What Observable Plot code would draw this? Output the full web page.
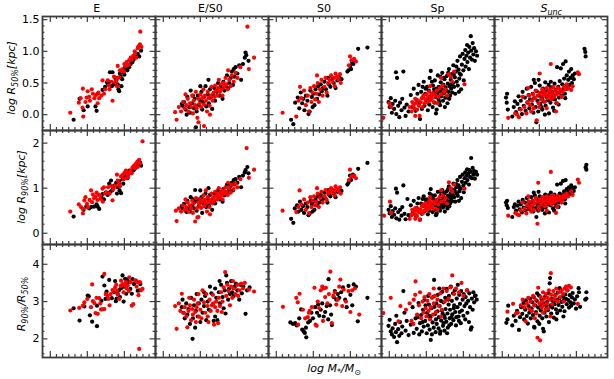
<!DOCTYPE html>
<html><head><meta charset="utf-8">
<script src="https://cdn.jsdelivr.net/npm/d3@7"></script>
<script src="https://cdn.jsdelivr.net/npm/@observablehq/plot@0.6"></script>
<style>
body{margin:0;background:#fff;}
#chart{position:relative;width:614px;height:379px;font-family:"DejaVu Sans",sans-serif;overflow:hidden;}
#chart svg{position:absolute;left:0;overflow:visible;}
</style></head><body><div id="chart"></div>
<script>
const categories = ["E","E/S0","S0","Sp","S_unc"];
const xDomain = [8.79, 11.84];
const xMajorTicks = [9,10,11];
const xMinorTicks = [9.1667,9.3333,9.5,9.6667,9.8333,10.1667,10.3333,10.5,10.6667,10.8333,11.1667,11.3333,11.5,11.6667];
const r50MajorTicks = [0,0.5,1,1.5];
const r50MinorTicks = [-0.2,-0.1,0.1,0.2,0.3,0.4,0.6,0.7,0.8,0.9,1.1,1.2,1.3,1.4];
const r90MajorTicks = [0,1,2];
const r90MinorTicks = [-0.2,0.2,0.4,0.6,0.8,1.2,1.4,1.6,1.8,2.2];
const ratioMajorTicks = [2,3,4];
const ratioMinorTicks = [1.6,1.8,2.2,2.4,2.6,2.8,3.2,3.4,3.6,3.8,4.2,4.4];

// ---- E ----
const eR50Black = [[9.63,-0.08],[9.79,0.25],[9.90,0.07],[10.01,0.13],[10.22,0.13],[10.25,0.06],[10.28,0.33],[10.41,0.39],[10.48,0.44],[10.53,0.51],[10.61,0.67],[10.68,0.67],[10.60,0.52],[10.66,0.45],[10.72,0.48],[10.82,0.48],[10.84,0.40],[10.86,0.37],[10.78,0.55],[10.90,0.60],[10.94,0.56],[10.97,0.67],[11.00,0.63],[11.04,0.72],[11.08,0.70],[11.13,0.75],[11.17,0.80],[11.22,0.83],[11.25,0.87],[11.27,0.91],[11.31,0.93],[11.36,0.96],[11.45,1.01],[11.40,0.92],[10.75,0.58],[10.88,0.65],[11.02,0.75],[10.92,0.45],[10.56,0.48],[11.19,0.84]];
const eR50Red = [[9.54,0.03],[9.89,-0.03],[9.87,0.11],[9.77,0.19],[9.82,0.26],[9.88,0.41],[10.01,0.37],[9.98,0.27],[10.07,0.22],[10.15,0.33],[10.23,0.31],[10.30,0.35],[10.32,0.26],[10.19,0.26],[10.12,0.40],[10.41,0.54],[10.38,0.30],[10.45,0.33],[10.55,0.54],[10.58,0.46],[10.68,0.22],[10.75,0.51],[10.78,0.54],[10.82,0.58],[10.86,0.59],[10.80,0.45],[10.82,0.77],[10.92,0.69],[10.99,0.68],[11.06,0.83],[11.08,0.78],[11.13,0.86],[11.17,0.90],[11.20,0.87],[11.24,0.93],[11.29,0.96],[11.32,0.90],[11.38,1.08],[11.42,1.11],[11.43,1.31],[11.36,1.05],[11.28,1.00],[11.04,0.77],[10.95,0.72],[10.72,0.60],[10.65,0.52],[10.48,0.40],[10.05,0.28],[9.95,0.20],[10.28,0.18],[11.12,0.79],[11.00,0.80],[10.88,0.70],[11.46,1.07],[10.60,0.40]];
const eR90Black = [[9.63,0.37],[9.90,0.52],[9.97,0.59],[10.05,0.55],[10.10,0.58],[10.18,0.59],[10.28,0.59],[10.32,0.54],[10.25,0.64],[10.41,0.87],[10.45,0.75],[10.50,0.90],[10.55,0.85],[10.59,1.10],[10.64,1.17],[10.67,0.95],[10.74,1.06],[10.78,1.12],[10.82,1.02],[10.87,0.95],[10.91,0.89],[10.86,1.15],[10.95,1.20],[11.00,1.24],[11.04,1.26],[11.08,1.22],[11.13,1.39],[11.18,1.35],[11.22,1.42],[11.29,1.48],[11.35,1.52],[11.43,1.56],[11.45,1.50],[10.70,1.00],[10.62,0.92],[10.97,1.10],[11.10,1.30],[10.38,0.80],[10.80,0.88],[11.25,1.40]];
const eR90Red = [[9.54,0.48],[9.77,0.64],[9.88,0.54],[9.88,0.44],[9.92,0.73],[9.99,0.65],[10.06,0.74],[10.10,0.95],[10.13,0.69],[10.18,0.78],[10.22,0.81],[10.27,0.74],[10.30,0.85],[10.35,0.84],[10.41,0.99],[10.45,1.02],[10.52,0.91],[10.56,1.02],[10.68,0.73],[10.60,0.88],[10.80,1.30],[10.82,1.17],[10.86,1.10],[10.91,1.26],[10.95,1.29],[11.00,1.34],[11.04,1.39],[11.08,1.31],[11.13,1.35],[11.17,1.39],[11.22,1.46],[11.26,1.50],[11.31,1.54],[11.35,1.59],[11.40,1.63],[11.49,2.04],[11.42,1.55],[11.10,1.25],[10.98,1.20],[10.75,1.05],[10.48,0.88],[10.36,0.76],[10.15,0.86],[10.02,0.58],[9.95,0.80],[10.65,1.05],[10.88,1.04],[11.20,1.33],[11.30,1.44],[10.25,0.90],[10.70,0.97],[11.05,1.22],[10.42,0.70],[9.83,0.58],[11.36,1.47]];
const eRatioBlack = [[9.63,2.82],[9.79,2.49],[9.92,2.87],[10.01,3.16],[10.04,3.14],[10.07,2.63],[10.13,2.46],[10.26,2.34],[10.26,2.89],[10.41,3.67],[10.46,3.43],[10.49,3.07],[10.52,3.27],[10.59,3.58],[10.66,3.09],[10.72,3.25],[10.77,3.01],[10.79,3.08],[10.82,3.21],[10.86,3.31],[10.91,3.36],[10.95,3.70],[10.98,3.40],[11.02,3.61],[11.05,3.21],[11.08,3.58],[11.11,3.52],[11.16,3.34],[11.20,3.21],[11.26,3.47],[11.31,3.56],[11.36,3.29],[11.43,3.47],[11.40,3.30],[10.98,3.00],[10.50,3.20],[10.38,3.02],[10.75,3.55],[11.22,3.60],[10.88,3.12]];
const eRatioRed = [[9.54,2.76],[9.78,2.83],[9.88,2.89],[9.92,2.98],[10.00,3.07],[10.13,3.46],[10.15,3.01],[10.19,2.96],[10.22,2.69],[10.28,2.67],[10.32,3.09],[10.37,2.79],[10.41,2.79],[10.46,2.80],[10.50,3.20],[10.46,3.74],[10.57,3.07],[10.63,3.20],[10.68,3.31],[10.75,3.38],[10.80,3.29],[10.82,3.19],[10.86,3.07],[10.91,3.56],[10.95,3.47],[11.00,3.44],[11.04,3.52],[11.09,3.43],[11.13,3.65],[11.17,3.52],[11.20,2.89],[11.24,2.93],[11.29,3.56],[11.36,3.52],[11.38,3.17],[11.42,3.52],[11.45,3.30],[11.49,3.34],[11.40,1.73],[10.70,3.28],[10.98,3.25],[11.06,3.35],[10.60,2.90],[10.25,3.10],[10.90,3.42],[11.12,3.28],[10.10,2.85],[10.35,2.95],[11.33,3.40],[10.78,3.45],[10.55,3.15]];

// ---- E/S0 ----
const es0R50Black = [[9.50,0.17],[9.52,0.14],[9.56,0.20],[9.60,0.08],[9.63,0.00],[9.65,0.28],[9.70,0.12],[9.74,0.38],[9.72,0.03],[9.78,0.18],[9.83,0.10],[9.85,0.25],[9.88,-0.20],[9.90,0.05],[9.93,0.30],[9.96,0.15],[10.00,0.22],[10.03,0.36],[10.05,0.08],[10.08,0.20],[10.10,0.28],[10.14,0.45],[10.16,0.13],[10.20,0.32],[10.23,0.18],[10.26,0.40],[10.28,0.27],[10.32,0.09],[10.35,0.32],[10.38,0.42],[10.40,0.22],[10.45,0.36],[10.48,0.50],[10.52,0.30],[10.55,0.46],[10.58,0.41],[10.62,0.52],[10.65,0.38],[10.68,0.45],[10.72,0.62],[10.75,0.42],[10.78,0.50],[10.82,0.58],[10.85,0.68],[10.88,0.47],[10.92,0.60],[10.95,0.75],[11.00,0.65],[11.05,0.78],[11.10,0.55],[11.15,0.80],[11.20,0.90],[11.22,0.98],[11.24,0.94],[11.30,0.85],[10.00,0.45],[10.22,0.55],[9.80,0.30],[10.60,0.25],[10.90,0.72]];
const es0R50Red = [[9.32,0.04],[9.36,-0.08],[9.42,0.12],[9.48,0.05],[9.53,0.20],[9.58,0.10],[9.62,0.15],[9.66,0.25],[9.68,0.05],[9.72,0.18],[9.75,0.12],[9.78,0.30],[9.80,0.02],[9.82,0.22],[9.86,0.15],[9.88,0.36],[9.90,0.10],[9.92,-0.05],[9.95,0.25],[9.98,0.18],[10.00,0.32],[10.02,0.12],[10.05,0.26],[10.08,0.40],[10.10,0.16],[10.12,0.30],[10.15,0.22],[10.18,0.05],[10.20,0.36],[10.22,0.26],[10.25,0.14],[10.28,0.30],[10.30,0.44],[10.33,0.22],[10.36,0.35],[10.38,0.28],[10.40,0.46],[10.43,0.38],[10.46,0.30],[10.48,0.42],[10.50,0.55],[10.53,0.36],[10.56,0.48],[10.58,0.40],[10.62,0.50],[10.65,0.44],[10.68,0.58],[10.70,0.48],[10.74,0.40],[10.78,0.55],[10.82,0.45],[10.85,0.62],[10.90,0.52],[10.95,0.66],[11.00,0.58],[11.08,0.75],[11.27,1.39],[11.31,0.72],[11.45,0.90],[10.10,-0.18],[9.95,-0.12],[10.60,0.30],[10.26,0.00],[9.60,0.32],[10.75,0.70]];
const es0R90Black = [[9.50,0.60],[9.52,0.55],[9.56,0.65],[9.60,0.50],[9.63,0.47],[9.65,0.72],[9.70,0.55],[9.74,0.80],[9.72,0.48],[9.78,0.62],[9.83,0.55],[9.85,0.70],[9.86,0.96],[9.90,0.50],[9.93,0.75],[9.96,0.60],[10.00,0.68],[10.03,0.80],[10.05,0.45],[10.08,0.66],[10.10,0.72],[10.14,0.88],[10.16,0.58],[10.20,0.76],[10.23,0.62],[10.26,0.85],[10.28,0.70],[10.32,0.52],[10.35,0.78],[10.38,0.88],[10.40,0.66],[10.45,0.82],[10.48,0.95],[10.52,0.75],[10.55,0.92],[10.58,0.86],[10.62,0.98],[10.65,0.84],[10.68,0.92],[10.72,1.08],[10.75,0.90],[10.78,0.98],[10.82,1.05],[10.85,1.12],[10.88,0.95],[10.92,1.08],[10.95,1.20],[11.00,1.12],[11.05,1.25],[11.10,1.02],[11.15,1.28],[11.20,1.35],[11.22,1.40],[11.27,1.47],[11.30,1.33],[10.00,0.95],[10.22,1.00],[9.80,0.75],[10.60,0.70],[10.90,1.18]];
const es0R90Red = [[9.34,0.50],[9.36,0.27],[9.42,0.55],[9.48,0.48],[9.53,0.62],[9.58,0.52],[9.62,0.58],[9.66,0.68],[9.68,0.48],[9.72,0.62],[9.75,0.55],[9.78,0.72],[9.80,0.45],[9.82,0.66],[9.86,0.26],[9.88,0.78],[9.90,0.55],[9.92,0.35],[9.95,0.68],[9.98,0.60],[10.00,0.75],[10.02,0.56],[10.05,0.70],[10.08,0.84],[10.10,0.60],[10.12,0.74],[10.15,0.66],[10.18,0.48],[10.20,0.80],[10.22,0.70],[10.25,0.58],[10.28,0.74],[10.30,0.88],[10.33,0.66],[10.36,0.80],[10.38,0.72],[10.40,0.92],[10.43,0.82],[10.46,0.75],[10.48,0.88],[10.50,1.00],[10.53,0.80],[10.56,0.92],[10.58,0.85],[10.62,0.95],[10.65,0.88],[10.68,1.02],[10.70,0.92],[10.74,0.85],[10.78,1.00],[10.82,0.90],[10.85,1.08],[10.90,0.98],[10.95,1.10],[11.00,1.02],[11.08,1.20],[11.25,1.89],[11.31,1.23],[11.45,1.41],[9.95,0.36],[10.60,0.75],[10.26,0.42],[9.60,0.75],[10.75,1.12],[10.15,0.95]];
const es0RatioBlack = [[9.50,2.85],[9.52,3.05],[9.55,2.70],[9.58,2.55],[9.62,2.95],[9.65,2.65],[9.68,2.80],[9.72,2.40],[9.75,3.10],[9.79,2.00],[9.80,2.55],[9.83,2.90],[9.86,2.30],[9.88,2.75],[9.90,3.20],[9.93,2.60],[9.96,2.95],[10.00,2.45],[10.03,3.05],[10.06,2.70],[10.10,2.88],[10.13,3.15],[10.16,2.50],[10.20,3.00],[10.23,2.78],[10.26,3.40],[10.30,3.22],[10.33,2.92],[10.36,2.48],[10.40,3.35],[10.43,3.10],[10.46,2.50],[10.50,3.25],[10.53,2.95],[10.56,3.45],[10.60,3.12],[10.63,2.82],[10.66,3.30],[10.70,3.70],[10.72,3.50],[10.75,3.05],[10.78,3.35],[10.80,3.20],[10.83,3.55],[10.86,3.25],[10.90,3.15],[10.93,3.40],[10.96,3.48],[11.00,3.30],[11.05,3.05],[11.08,3.45],[11.12,3.22],[11.16,3.40],[11.22,2.67],[11.26,3.30],[11.33,3.38],[10.68,2.68],[10.40,2.60],[10.10,3.25],[10.52,3.55]];
const es0RatioRed = [[9.32,2.88],[9.36,2.27],[9.42,2.95],[9.46,2.75],[9.50,3.21],[9.54,2.70],[9.58,2.85],[9.62,2.60],[9.65,2.31],[9.68,2.75],[9.72,2.90],[9.75,2.50],[9.78,2.80],[9.80,2.65],[9.83,3.05],[9.86,2.72],[9.88,2.45],[9.90,2.85],[9.93,2.95],[9.96,2.60],[10.00,2.78],[10.03,2.55],[10.06,3.30],[10.10,2.98],[10.13,2.70],[10.16,3.20],[10.19,2.88],[10.22,2.45],[10.25,3.05],[10.28,2.75],[10.31,2.90],[10.34,3.18],[10.37,2.38],[10.40,2.85],[10.43,3.00],[10.46,2.75],[10.50,3.10],[10.53,2.88],[10.56,3.25],[10.60,3.00],[10.63,3.38],[10.67,3.79],[10.70,3.15],[10.73,3.45],[10.76,3.28],[10.80,2.90],[10.83,3.40],[10.86,3.10],[10.90,3.35],[10.95,3.20],[11.00,3.45],[11.05,3.30],[11.10,3.48],[11.15,3.35],[11.20,3.50],[11.31,3.32],[11.45,3.27],[10.20,2.60],[9.95,3.20],[10.58,2.72],[10.88,3.55],[11.02,3.15],[10.48,2.42],[9.70,3.10],[10.35,2.95]];

// ---- S0 ----
const s0R50Black = [[9.40,-0.08],[9.46,-0.15],[9.51,0.19],[9.58,0.27],[9.62,0.10],[9.66,0.35],[9.70,0.18],[9.73,0.25],[9.76,0.07],[9.80,0.30],[9.84,0.22],[9.87,0.01],[9.90,0.05],[9.92,0.38],[9.96,0.28],[10.00,0.33],[10.03,0.15],[10.06,0.40],[10.10,0.25],[10.13,0.45],[10.16,0.32],[10.20,0.48],[10.23,0.37],[10.26,0.42],[10.30,0.52],[10.34,0.40],[10.38,0.30],[10.42,0.48],[10.46,0.44],[10.50,0.56],[10.55,0.50],[10.60,0.42],[10.65,0.54],[10.70,0.60],[10.76,0.56],[10.95,0.70],[10.99,0.77],[11.02,0.72],[11.05,0.82],[11.08,0.80],[11.21,1.04],[11.46,1.06],[10.92,0.68],[10.40,0.58],[9.98,0.12]];
const s0R50Red = [[9.17,0.03],[9.54,-0.03],[9.64,0.44],[9.60,0.22],[9.68,0.26],[9.75,0.38],[9.80,0.15],[9.85,0.30],[9.88,0.05],[9.95,0.20],[9.98,0.35],[10.02,0.45],[10.05,0.24],[10.08,0.33],[10.12,0.50],[10.15,0.20],[10.18,0.40],[10.22,0.55],[10.25,0.30],[10.30,0.44],[10.33,0.58],[10.36,0.35],[10.40,0.50],[10.44,0.55],[10.48,0.62],[10.52,0.52],[10.56,0.58],[10.60,0.65],[10.64,0.60],[10.68,0.56],[10.72,0.64],[10.74,0.50],[10.96,0.78],[10.99,0.92],[11.03,0.86],[11.10,0.88],[11.15,0.84],[10.10,0.62],[9.92,0.42],[10.58,0.45]];
const s0R90Black = [[9.40,0.32],[9.46,0.23],[9.50,0.55],[9.56,0.62],[9.60,0.48],[9.64,0.70],[9.68,0.52],[9.72,0.60],[9.75,0.45],[9.80,0.66],[9.84,0.58],[9.87,0.40],[9.90,0.44],[9.93,0.72],[9.96,0.64],[10.00,0.70],[10.03,0.52],[10.06,0.76],[10.10,0.62],[10.13,0.82],[10.16,0.68],[10.20,0.85],[10.23,0.74],[10.26,0.78],[10.30,0.90],[10.34,0.76],[10.38,0.68],[10.42,0.86],[10.46,0.82],[10.50,0.94],[10.55,0.88],[10.60,0.80],[10.65,0.92],[10.70,0.98],[10.76,0.94],[10.95,1.12],[10.99,1.28],[11.02,1.18],[11.07,1.30],[11.10,1.26],[11.21,1.43],[11.46,1.56],[10.92,1.08],[10.40,0.96],[9.98,0.48]];
const s0R90Red = [[9.17,0.50],[9.54,0.47],[9.63,0.95],[9.60,0.58],[9.68,0.64],[9.75,0.75],[9.80,0.52],[9.85,0.68],[9.88,0.44],[9.95,0.58],[9.98,0.72],[10.02,0.82],[10.05,0.62],[10.08,0.70],[10.12,0.88],[10.15,0.58],[10.18,0.78],[10.22,0.92],[10.25,0.68],[10.30,0.82],[10.33,0.96],[10.36,0.74],[10.40,0.88],[10.44,0.94],[10.48,1.00],[10.52,0.90],[10.56,0.96],[10.60,1.04],[10.64,0.98],[10.68,0.94],[10.72,1.02],[10.74,0.88],[10.96,1.18],[10.99,1.41],[11.03,1.26],[11.10,1.28],[11.15,1.22],[10.10,1.00],[9.92,0.80],[10.58,0.84]];
const s0RatioBlack = [[9.38,2.44],[9.45,2.40],[9.51,2.42],[9.55,2.36],[9.62,2.55],[9.67,2.79],[9.70,2.25],[9.74,2.20],[9.77,2.16],[9.81,2.04],[9.80,2.30],[9.86,2.44],[9.91,2.48],[9.95,2.70],[9.99,2.55],[10.05,2.85],[10.10,2.70],[10.13,2.92],[10.16,2.62],[10.20,2.78],[10.24,2.95],[10.28,2.60],[10.32,2.72],[10.36,2.88],[10.41,3.60],[10.45,2.90],[10.48,2.65],[10.50,2.37],[10.55,3.12],[10.58,3.28],[10.62,3.05],[10.66,3.20],[10.70,3.10],[10.75,3.25],[10.80,3.38],[10.86,3.05],[10.90,2.85],[10.95,3.42],[11.00,3.18],[11.05,2.90],[11.09,3.46],[11.15,3.40],[11.20,2.47],[11.46,3.10],[10.40,2.52]];
const s0RatioRed = [[9.18,2.86],[9.54,3.10],[9.58,2.98],[9.63,3.21],[9.59,2.38],[9.78,2.55],[9.85,2.58],[9.88,2.70],[9.90,2.75],[9.96,2.85],[10.03,3.37],[10.06,2.38],[10.09,2.35],[10.12,3.00],[10.16,2.82],[10.20,3.30],[10.24,3.40],[10.28,3.35],[10.32,3.12],[10.34,3.37],[10.38,2.95],[10.42,3.20],[10.46,3.80],[10.50,2.42],[10.54,3.15],[10.58,3.25],[10.62,2.92],[10.66,3.05],[10.73,3.59],[10.78,2.88],[10.82,3.32],[10.88,3.00],[10.95,3.28],[11.00,2.72],[11.05,3.30],[11.12,3.35],[11.24,2.65],[10.70,3.40],[10.26,2.48],[9.72,2.78]];

// ---- Sp ----
const spR50Black = [[8.98,0.20],[9.01,0.12],[9.04,0.26],[9.07,0.03],[9.09,0.17],[9.13,0.09],[9.16,0.22],[9.18,0.67],[9.21,0.58],[9.19,0.01],[9.24,0.14],[9.27,-0.04],[9.29,0.19],[9.33,0.07],[9.35,0.25],[9.38,0.68],[9.41,0.11],[9.44,-0.02],[9.47,0.16],[9.52,0.05],[9.58,0.31],[9.63,0.12],[9.66,0.41],[9.71,0.06],[9.74,0.23],[9.79,0.47],[9.81,0.18],[9.83,-0.07],[9.86,0.36],[9.88,0.09],[9.91,0.27],[9.93,0.52],[9.95,0.14],[9.97,0.33],[10.01,0.21],[10.02,0.44],[10.04,0.07],[10.07,0.38],[10.09,0.58],[10.11,0.24],[10.12,0.69],[10.14,0.31],[10.17,0.12],[10.18,0.46],[10.20,0.35],[10.22,0.19],[10.23,0.54],[10.25,0.28],[10.27,0.41],[10.28,0.08],[10.30,0.33],[10.31,0.62],[10.33,0.24],[10.34,0.44],[10.36,0.37],[10.37,0.15],[10.39,0.51],[10.40,0.29],[10.42,0.40],[10.43,0.66],[10.45,0.22],[10.46,0.47],[10.48,0.34],[10.49,0.56],[10.51,0.27],[10.52,0.43],[10.54,0.38],[10.55,0.61],[10.57,0.18],[10.58,0.49],[10.60,0.36],[10.61,0.72],[10.63,0.45],[10.64,0.30],[10.66,0.55],[10.67,0.41],[10.69,0.64],[10.70,0.35],[10.72,0.50],[10.73,0.78],[10.75,0.44],[10.77,0.59],[10.78,0.33],[10.80,0.68],[10.82,0.52],[10.84,0.85],[10.85,0.46],[10.87,0.71],[10.89,0.57],[10.91,0.92],[10.93,0.63],[10.94,0.40],[10.96,0.79],[10.98,0.96],[11.00,0.70],[11.01,0.54],[11.03,0.88],[11.05,1.02],[11.06,0.76],[11.08,0.93],[11.10,1.10],[11.11,0.83],[11.13,0.98],[11.15,0.72],[11.16,1.07],[11.18,0.90],[11.20,1.24],[11.21,1.01],[11.23,0.87],[11.25,1.13],[11.27,0.95],[11.29,1.05],[11.31,0.85],[11.34,1.00],[11.37,0.93],[10.05,0.26],[10.15,0.52],[10.26,0.02],[10.38,0.60],[10.50,0.12],[10.62,0.25],[10.74,0.63],[10.88,0.36],[9.98,0.41],[9.76,0.33],[10.44,0.33],[10.56,0.27],[10.68,0.48],[10.35,0.20],[10.21,0.40],[10.08,0.16],[9.90,0.44],[10.47,0.58],[10.59,0.66],[10.81,0.76],[10.90,0.65]];
const spR50Red = [[8.84,-0.05],[9.00,0.18],[9.05,0.12],[9.55,0.12],[9.60,0.05],[9.62,0.20],[9.65,0.15],[9.68,0.10],[9.70,0.25],[9.72,0.18],[9.75,0.08],[9.78,0.22],[9.80,0.14],[9.82,-0.02],[9.85,0.20],[9.88,0.26],[9.90,0.12],[9.92,0.30],[9.95,0.18],[9.98,0.24],[10.00,0.32],[10.02,0.20],[10.05,0.28],[10.08,0.36],[10.10,0.22],[10.12,0.30],[10.15,0.26],[10.18,0.34],[10.20,0.20],[10.24,0.30],[10.28,0.38],[10.32,0.28],[10.36,0.42],[10.40,0.32],[10.44,0.46],[10.48,0.36],[10.52,0.40],[10.56,0.30],[10.61,0.64],[10.66,0.60],[10.70,0.52],[10.75,0.68],[11.03,0.48],[10.40,0.58],[10.30,0.18],[9.70,-0.02],[10.10,0.45]];
const spR90Black = [[8.98,0.52],[9.01,0.44],[9.04,0.60],[9.07,0.36],[9.09,0.49],[9.13,0.41],[9.16,0.55],[9.18,0.99],[9.21,0.90],[9.19,0.33],[9.24,0.47],[9.27,0.30],[9.29,0.52],[9.33,0.39],[9.35,0.58],[9.38,1.06],[9.41,0.43],[9.44,0.31],[9.49,0.76],[9.52,0.40],[9.58,0.62],[9.63,0.45],[9.66,0.72],[9.71,0.40],[9.74,0.56],[9.79,0.78],[9.81,0.50],[9.83,0.30],[9.86,0.66],[9.88,0.43],[9.91,0.60],[9.93,0.82],[9.95,0.48],[9.97,0.64],[10.01,0.55],[10.02,0.75],[10.04,0.42],[10.07,0.68],[10.09,0.88],[10.11,0.57],[10.12,0.98],[10.14,0.63],[10.17,0.47],[10.18,0.77],[10.20,0.67],[10.22,0.52],[10.23,0.84],[10.25,0.61],[10.27,0.73],[10.28,0.44],[10.30,0.66],[10.31,0.92],[10.33,0.58],[10.34,0.76],[10.36,0.70],[10.37,0.50],[10.39,0.83],[10.40,0.63],[10.42,0.73],[10.43,0.96],[10.45,0.57],[10.46,0.80],[10.48,0.68],[10.49,0.88],[10.51,0.62],[10.52,0.77],[10.54,0.72],[10.55,0.93],[10.57,0.55],[10.58,0.83],[10.60,0.71],[10.61,1.04],[10.63,0.80],[10.64,0.66],[10.66,0.89],[10.67,0.76],[10.69,0.97],[10.70,0.71],[10.72,0.85],[10.73,1.10],[10.75,0.80],[10.77,0.94],[10.78,0.70],[10.80,1.02],[10.82,0.88],[10.84,1.18],[10.85,0.83],[10.87,1.06],[10.89,0.93],[10.91,1.25],[10.93,0.99],[10.94,0.78],[10.96,1.14],[10.98,1.30],[11.00,1.06],[11.01,0.91],[11.03,1.22],[11.05,1.35],[11.06,1.12],[11.08,1.27],[11.10,1.42],[11.11,1.18],[11.13,1.32],[11.15,1.08],[11.16,1.40],[11.18,1.25],[11.21,1.67],[11.20,1.36],[11.23,1.22],[11.25,1.45],[11.27,1.30],[11.29,1.38],[11.31,1.21],[11.34,1.36],[11.37,1.30],[10.05,0.60],[10.15,0.84],[10.26,0.40],[10.38,0.92],[10.50,0.48],[10.62,0.60],[10.74,0.96],[10.88,0.72],[9.98,0.74],[9.76,0.66],[10.44,0.67],[10.56,0.62],[10.68,0.82],[10.35,0.55],[10.21,0.73],[10.08,0.50],[9.90,0.76],[10.47,0.90],[10.59,0.98],[10.81,1.09],[10.90,1.00]];
const spR90Red = [[8.86,0.39],[9.02,0.70],[9.05,0.45],[9.55,0.32],[9.60,0.40],[9.62,0.52],[9.65,0.46],[9.68,0.42],[9.70,0.56],[9.72,0.50],[9.75,0.38],[9.78,0.54],[9.80,0.46],[9.82,0.30],[9.85,0.52],[9.88,0.60],[9.90,0.44],[9.92,0.64],[9.95,0.50],[9.98,0.58],[10.00,0.66],[10.02,0.52],[10.05,0.62],[10.08,0.72],[10.10,0.56],[10.12,0.66],[10.15,0.60],[10.18,0.70],[10.20,0.54],[10.24,0.66],[10.28,0.74],[10.32,0.64],[10.36,0.80],[10.40,0.70],[10.44,0.84],[10.48,0.72],[10.52,0.78],[10.56,0.66],[10.61,1.13],[10.66,1.00],[10.70,0.92],[10.75,1.08],[11.03,0.99],[10.40,0.95],[10.30,0.52],[9.70,0.32],[10.10,0.80]];
const spRatioBlack = [[8.98,2.35],[9.01,2.51],[9.04,2.20],[9.07,2.12],[9.09,2.28],[9.13,2.05],[9.16,2.40],[9.18,2.18],[9.21,1.91],[9.19,2.62],[9.24,2.26],[9.27,2.08],[9.29,2.45],[9.33,2.15],[9.35,2.33],[9.38,3.28],[9.41,2.70],[9.44,2.22],[9.47,2.48],[9.52,2.10],[9.58,2.38],[9.63,2.85],[9.66,2.16],[9.71,2.55],[9.74,2.27],[9.79,2.96],[9.81,2.12],[9.83,2.42],[9.86,2.64],[9.88,2.20],[9.91,2.78],[9.93,2.33],[9.95,3.05],[9.97,2.48],[10.01,2.15],[10.02,2.70],[10.04,2.36],[10.07,2.92],[10.09,2.25],[10.11,2.58],[10.12,1.97],[10.14,2.82],[10.17,2.44],[10.18,3.12],[10.20,2.30],[10.21,3.58],[10.23,2.66],[10.25,2.18],[10.27,2.95],[10.28,2.40],[10.30,2.74],[10.31,3.18],[10.33,2.28],[10.34,2.58],[10.36,2.88],[10.37,2.14],[10.39,3.02],[10.40,2.49],[10.42,2.76],[10.43,3.26],[10.45,2.35],[10.46,2.98],[10.48,2.62],[10.49,2.22],[10.51,3.10],[10.52,2.80],[10.54,2.46],[10.55,3.34],[10.57,2.68],[10.58,2.30],[10.60,2.92],[10.61,3.15],[10.63,2.55],[10.64,2.78],[10.66,3.40],[10.67,2.40],[10.69,3.02],[10.70,2.66],[10.72,3.22],[10.73,2.50],[10.75,2.90],[10.77,3.30],[10.78,2.72],[10.80,2.36],[10.82,3.08],[10.84,2.85],[10.85,3.45],[10.87,2.60],[10.89,3.18],[10.91,2.94],[10.93,2.42],[10.94,3.28],[10.96,2.76],[10.98,3.05],[11.00,2.62],[11.01,3.20],[11.03,2.88],[11.05,2.52],[11.06,3.12],[11.08,2.95],[11.10,3.30],[11.11,2.70],[11.13,3.02],[11.15,2.45],[11.16,3.22],[11.18,2.85],[11.20,2.25],[11.22,2.31],[11.23,3.08],[11.25,2.78],[11.27,3.25],[11.29,2.98],[11.31,3.15],[11.33,3.16],[11.36,3.05],[10.05,3.15],[10.15,2.12],[10.26,2.52],[10.38,2.20],[10.50,2.56],[10.62,2.36],[10.74,2.82],[10.88,2.48],[9.98,2.90],[9.76,2.58],[10.44,2.68],[10.56,2.15],[10.68,2.58],[10.35,3.35],[10.22,2.86],[10.08,2.62],[9.90,2.45],[10.47,2.42],[10.59,3.05],[10.81,2.58],[10.90,2.72]];
const spRatioRed = [[8.84,2.69],[9.04,3.10],[9.25,2.47],[9.30,2.88],[9.45,2.78],[9.55,2.95],[9.60,2.48],[9.66,3.05],[9.71,3.54],[9.70,3.18],[9.75,2.65],[9.80,2.90],[9.83,3.25],[9.86,2.55],[9.90,3.00],[9.92,2.70],[9.95,3.12],[9.98,2.82],[10.00,2.60],[10.03,3.02],[10.06,2.75],[10.08,3.20],[10.10,2.52],[10.12,2.85],[10.15,3.10],[10.18,2.65],[10.20,2.95],[10.23,3.15],[10.26,2.72],[10.30,3.05],[10.34,2.88],[10.38,3.22],[10.42,2.78],[10.46,3.35],[10.50,3.00],[10.55,3.28],[10.60,3.08],[10.65,3.38],[10.70,3.70],[10.75,3.20],[10.80,3.35],[10.88,3.25],[10.95,3.50],[11.00,3.15],[11.10,3.30],[10.40,2.60],[10.20,3.35],[9.65,2.40]];

// ---- S_unc ----
const suncR50Black = [[9.10,0.27],[9.12,0.19],[9.13,0.33],[9.15,0.08],[9.27,-0.03],[9.31,0.12],[9.34,0.21],[9.37,0.04],[9.41,0.17],[9.44,0.29],[9.47,0.09],[9.50,0.22],[9.53,0.01],[9.55,0.36],[9.58,0.14],[9.61,0.27],[9.63,0.06],[9.66,0.41],[9.68,0.19],[9.71,0.31],[9.73,0.10],[9.75,0.24],[9.78,0.44],[9.80,0.16],[9.82,0.33],[9.84,0.03],[9.86,0.26],[9.88,0.50],[9.90,0.12],[9.92,-0.12],[9.93,0.37],[9.95,0.22],[9.97,0.05],[9.99,0.30],[10.01,0.46],[10.03,0.17],[10.05,0.35],[10.07,0.26],[10.08,0.08],[10.10,0.41],[10.12,0.21],[10.14,0.33],[10.16,0.51],[10.17,0.14],[10.19,0.28],[10.21,0.38],[10.23,0.23],[10.25,0.47],[10.26,0.02],[10.28,0.32],[10.30,0.19],[10.32,0.43],[10.33,0.27],[10.35,0.36],[10.37,0.11],[10.39,0.31],[10.41,0.49],[10.42,0.24],[10.44,0.39],[10.46,0.18],[10.48,0.75],[10.49,0.34],[10.51,0.44],[10.53,0.27],[10.55,0.53],[10.57,0.37],[10.58,0.73],[10.60,0.30],[10.62,0.48],[10.64,0.80],[10.65,0.40],[10.67,0.57],[10.69,0.33],[10.71,0.84],[10.72,0.46],[10.74,0.62],[10.76,0.41],[10.78,0.55],[10.80,0.68],[10.82,0.47],[10.84,0.58],[10.86,0.72],[10.88,0.50],[10.90,0.62],[10.93,0.56],[10.96,0.65],[11.22,1.04],[11.25,0.92],[11.24,0.99],[9.98,0.55],[10.15,0.00],[10.40,0.06],[9.85,0.55],[10.06,0.12],[10.52,0.16],[10.31,0.52],[10.70,0.26]];
const suncR50Red = [[9.16,-0.05],[9.35,0.02],[9.40,0.00],[9.45,-0.04],[9.50,0.08],[9.55,0.28],[9.60,0.12],[9.65,0.02],[9.68,0.20],[9.72,0.30],[9.75,0.15],[9.78,0.05],[9.80,0.22],[9.83,0.32],[9.85,0.10],[9.88,0.26],[9.90,0.38],[9.93,-0.09],[9.95,0.30],[9.98,0.18],[10.01,0.65],[10.02,0.34],[10.05,0.24],[10.08,0.40],[10.10,0.30],[10.12,0.36],[10.15,0.20],[10.18,0.32],[10.20,0.42],[10.22,0.26],[10.25,0.36],[10.28,0.30],[10.31,0.80],[10.30,0.40],[10.33,0.24],[10.36,0.34],[10.38,0.44],[10.40,0.28],[10.43,0.38],[10.46,0.32],[10.48,0.18],[10.50,0.42],[10.53,0.34],[10.56,0.40],[10.60,0.28],[10.63,0.36],[10.66,0.44],[10.70,0.40],[10.74,0.48],[10.78,0.42],[10.86,0.39],[11.04,0.67],[11.07,0.64],[10.00,0.12],[10.20,0.10],[9.70,0.42],[10.45,0.05],[10.90,0.45]];
const suncR90Black = [[9.10,0.68],[9.12,0.62],[9.13,0.72],[9.15,0.56],[9.27,0.36],[9.31,0.58],[9.34,0.64],[9.37,0.50],[9.41,0.61],[9.44,0.70],[9.47,0.53],[9.50,0.64],[9.53,0.46],[9.55,0.74],[9.58,0.57],[9.61,0.68],[9.63,0.51],[9.66,0.78],[9.68,0.60],[9.71,0.70],[9.73,0.54],[9.75,0.65],[9.78,0.80],[9.80,0.58],[9.82,0.72],[9.84,0.48],[9.86,0.66],[9.88,0.84],[9.90,0.56],[9.92,0.36],[9.93,0.76],[9.95,0.63],[9.97,0.50],[9.99,0.70],[10.01,0.82],[10.03,0.60],[10.05,0.74],[10.07,0.67],[10.08,0.52],[10.10,0.78],[10.12,0.62],[10.14,0.72],[10.16,0.86],[10.17,0.57],[10.19,0.69],[10.21,0.77],[10.23,0.64],[10.25,0.84],[10.26,0.46],[10.28,0.72],[10.30,0.62],[10.32,0.80],[10.33,0.68],[10.35,0.76],[10.37,0.55],[10.39,0.72],[10.41,0.86],[10.42,0.66],[10.44,0.78],[10.46,0.60],[10.48,1.08],[10.49,0.74],[10.51,0.82],[10.53,0.68],[10.55,0.88],[10.57,0.76],[10.58,1.10],[10.60,0.72],[10.62,0.86],[10.64,1.16],[10.65,0.80],[10.67,0.93],[10.69,0.75],[10.71,1.18],[10.72,0.85],[10.74,0.98],[10.76,0.82],[10.78,0.92],[10.80,1.02],[10.82,0.87],[10.84,0.96],[10.86,1.06],[10.88,0.90],[10.90,1.00],[10.93,0.94],[10.96,1.02],[11.27,1.52],[11.27,1.41],[11.25,1.46],[9.98,0.92],[10.15,0.44],[10.40,0.50],[9.85,0.90],[10.06,0.55],[10.52,0.58],[10.31,0.90],[10.70,0.66]];
const suncR90Red = [[9.16,0.39],[9.35,0.45],[9.40,0.42],[9.45,0.40],[9.50,0.50],[9.55,0.68],[9.60,0.54],[9.65,0.44],[9.68,0.62],[9.72,0.70],[9.75,0.56],[9.78,0.48],[9.80,0.62],[9.83,0.72],[9.85,0.52],[9.88,0.66],[9.90,0.78],[9.95,0.21],[9.95,0.70],[9.98,0.58],[9.97,1.12],[10.02,0.74],[10.05,0.64],[10.08,0.80],[10.10,0.70],[10.12,0.76],[10.15,0.60],[10.18,0.72],[10.20,0.82],[10.22,0.66],[10.25,0.76],[10.28,0.70],[10.31,1.36],[10.30,0.80],[10.33,0.64],[10.36,0.74],[10.38,0.84],[10.40,0.68],[10.43,0.78],[10.46,0.72],[10.48,0.58],[10.50,0.82],[10.53,0.74],[10.56,0.80],[10.60,0.68],[10.63,0.76],[10.66,0.84],[10.70,0.80],[10.74,0.88],[10.78,0.82],[10.86,0.93],[11.04,1.19],[11.07,1.12],[10.00,0.52],[10.20,0.50],[9.70,0.82],[10.45,0.45],[10.90,0.85]];
const suncRatioBlack = [[9.11,2.43],[9.14,2.52],[9.16,2.89],[9.27,2.36],[9.31,2.62],[9.36,2.48],[9.40,2.75],[9.45,2.24],[9.48,2.58],[9.51,2.85],[9.54,2.67],[9.57,2.96],[9.59,2.52],[9.62,2.78],[9.64,3.03],[9.66,2.61],[9.69,2.41],[9.71,2.88],[9.73,2.70],[9.75,3.08],[9.77,2.55],[9.79,2.82],[9.81,2.98],[9.83,2.64],[9.85,3.12],[9.87,2.30],[9.89,2.90],[9.91,2.72],[9.93,3.02],[9.95,2.47],[9.97,2.84],[9.99,3.16],[10.01,2.62],[10.03,2.93],[10.04,2.76],[10.06,3.06],[10.08,2.55],[10.10,2.27],[10.11,2.96],[10.12,2.20],[10.14,2.70],[10.16,3.14],[10.18,2.88],[10.19,2.60],[10.21,2.99],[10.23,2.77],[10.25,3.22],[10.28,3.49],[10.29,3.63],[10.30,2.90],[10.32,2.68],[10.34,3.08],[10.35,2.84],[10.37,3.01],[10.39,2.57],[10.41,2.93],[10.43,3.17],[10.45,2.79],[10.47,3.04],[10.48,2.69],[10.50,3.24],[10.52,2.91],[10.54,3.09],[10.56,2.76],[10.58,3.27],[10.60,2.99],[10.62,2.86],[10.64,3.13],[10.66,3.03],[10.68,2.74],[10.70,3.19],[10.72,3.07],[10.74,2.93],[10.76,3.30],[10.78,3.04],[10.80,2.84],[10.82,3.17],[10.84,2.98],[10.86,2.89],[10.88,3.11],[10.90,3.23],[10.93,2.95],[10.96,3.06],[10.99,2.81],[11.02,3.14],[11.06,3.36],[11.07,3.25],[11.10,2.86],[11.27,3.25],[11.27,3.08],[11.24,3.05],[10.00,2.40],[10.26,2.45],[9.86,2.32],[10.46,2.52],[10.65,2.60],[9.94,3.22],[10.55,3.36]];
const suncRatioRed = [[9.14,2.73],[9.29,2.94],[9.37,2.68],[9.42,2.70],[9.50,2.90],[9.55,3.05],[9.60,2.85],[9.63,2.47],[9.66,2.95],[9.70,3.10],[9.73,2.80],[9.76,3.00],[9.80,2.75],[9.83,3.15],[9.86,2.90],[9.90,3.05],[9.92,2.68],[9.95,2.03],[9.97,3.37],[10.00,2.95],[10.02,1.96],[10.04,3.12],[10.06,2.85],[10.08,3.00],[10.10,3.25],[10.12,2.90],[10.14,3.08],[10.16,2.78],[10.18,3.20],[10.20,2.95],[10.22,3.10],[10.24,2.82],[10.26,3.30],[10.28,3.05],[10.31,3.76],[10.32,3.18],[10.35,2.92],[10.38,3.28],[10.40,3.05],[10.43,3.15],[10.46,3.35],[10.50,3.00],[10.53,3.25],[10.56,3.12],[10.60,3.30],[10.64,3.20],[10.68,3.35],[10.72,3.40],[10.75,3.30],[10.80,3.42],[10.85,3.38],[11.04,2.94],[10.30,2.60],[9.88,2.55],[10.66,3.00],[10.10,2.70]];

const series = {
  "E":    {r50:[eR50Black,eR50Red], r90:[eR90Black,eR90Red], ratio:[eRatioBlack,eRatioRed]},
  "E/S0": {r50:[es0R50Black,es0R50Red], r90:[es0R90Black,es0R90Red], ratio:[es0RatioBlack,es0RatioRed]},
  "S0":   {r50:[s0R50Black,s0R50Red], r90:[s0R90Black,s0R90Red], ratio:[s0RatioBlack,s0RatioRed]},
  "Sp":   {r50:[spR50Black,spR50Red], r90:[spR90Black,spR90Red], ratio:[spRatioBlack,spRatioRed]},
  "S_unc":{r50:[suncR50Black,suncR50Red], r90:[suncR90Black,suncR90Red], ratio:[suncRatioBlack,suncRatioRed]}
};

const chart = document.getElementById("chart");
const plotLeft = 40, plotRight = 608;
const fw = (plotRight - plotLeft) / categories.length;
const tickColor = "#3c3c3c";
const rowsCfg = [
  {key:"r50", domain:[-0.25,1.55], major:r50MajorTicks, minor:r50MinorTicks, fmt:d3.format(".1f"), top:16, bottom:130},
  {key:"r90", domain:[-0.25,2.28], major:r90MajorTicks, minor:r90MinorTicks, fmt:d3.format("d"), top:130, bottom:244},
  {key:"ratio", domain:[1.5,4.53], major:ratioMajorTicks, minor:ratioMinorTicks, fmt:d3.format("d"), top:244, bottom:357}
];

rowsCfg.forEach((r) => {
  const black = [], red = [];
  categories.forEach(c => {
    const [b, rd] = series[c][r.key];
    b.forEach(([x, y]) => black.push({c, x, y}));
    rd.forEach(([x, y]) => red.push({c, x, y}));
  });
  const mt = 4, mb = 4;
  const h = r.bottom - r.top;
  const tk = {stroke: tickColor, strokeWidth: 1.2};
  const plot = Plot.plot({
    width: 614, height: h + mt + mb,
    marginLeft: plotLeft, marginRight: 614 - plotRight, marginTop: mt, marginBottom: mb,
    style: {background: "transparent", overflow: "visible", fontFamily: "DejaVu Sans", fontSize: "11px", color: "#000"},
    x: {domain: xDomain, axis: null},
    y: {domain: r.domain, ticks: r.major, tickSize: 0, tickPadding: 3, tickFormat: r.fmt, label: null},
    fx: {domain: categories, padding: 0, axis: null},
    marks: [
      Plot.dot(black, {fx: "c", x: "x", y: "y", r: 2.1, fill: "#000", stroke: "none"}),
      Plot.dot(red, {fx: "c", x: "x", y: "y", r: 2.1, fill: "#ff0000", stroke: "none"}),
      Plot.tickY(r.major, {y: d => d, insetRight: fw - 6, ...tk}),
      Plot.tickY(r.major, {y: d => d, insetLeft: fw - 6, ...tk}),
      Plot.tickY(r.minor, {y: d => d, insetRight: fw - 3, ...tk}),
      Plot.tickY(r.minor, {y: d => d, insetLeft: fw - 3, ...tk}),
      Plot.tickX(xMajorTicks, {x: d => d, insetBottom: h - 6, ...tk}),
      Plot.tickX(xMajorTicks, {x: d => d, insetTop: h - 6, ...tk}),
      Plot.tickX(xMinorTicks, {x: d => d, insetBottom: h - 3, ...tk}),
      Plot.tickX(xMinorTicks, {x: d => d, insetTop: h - 3, ...tk}),
      Plot.frame({stroke: tickColor, strokeWidth: 1.8})
    ]
  });
  plot.style.position = "absolute";
  plot.style.top = (r.top - mt) + "px";
  plot.style.left = "0px";
  chart.appendChild(plot);
});

// Text overlay: column titles, row labels, x label
const svg = d3.select(chart).append("svg")
  .attr("width", 614).attr("height", 379)
  .style("position", "absolute").style("top", "0px").style("left", "0px")
  .attr("font-family", "DejaVu Sans").attr("font-size", 11).attr("fill", "#000");

categories.forEach((c, i) => {
  const t = svg.append("text").attr("x", plotLeft + fw * (i + 0.5)).attr("y", 12.3).attr("text-anchor", "middle");
  if (c === "S_unc") {
    t.append("tspan").attr("font-style", "italic").text("S");
    t.append("tspan").attr("font-style", "italic").attr("font-size", 8).attr("dy", 2.5).text("unc");
  } else {
    t.text(c);
  }
});

function rowLabel(bx, cy, parts) {
  const t = svg.append("text").attr("transform", `translate(${bx},${cy}) rotate(-90)`)
    .attr("text-anchor", "middle").attr("font-style", "italic");
  parts.forEach(([s, sub]) => {
    const ts = t.append("tspan").text(s);
    if (sub === 1) ts.attr("font-size", 8).attr("dy", 2.5);
    if (sub === -1) ts.attr("dy", -2.5);
  });
}
rowLabel(15, 78, [["log R",0],["50%",1],["[kpc]",-1]]);
rowLabel(25, 187, [["log R",0],["90%",1],["[kpc]",-1]]);
rowLabel(25, 304, [["R",0],["90%",1],["/R",-1],["50%",1]]);

const xl = svg.append("text").attr("x", 334).attr("y", 372).attr("text-anchor", "middle").attr("font-style", "italic");
xl.append("tspan").text("log M");
xl.append("tspan").attr("font-size", 8).attr("dy", 2.5).text("*");
xl.append("tspan").attr("dy", -2.5).text("/M");
xl.append("tspan").attr("font-size", 8).attr("dy", 2.5).text("⊙");
</script></body></html>
